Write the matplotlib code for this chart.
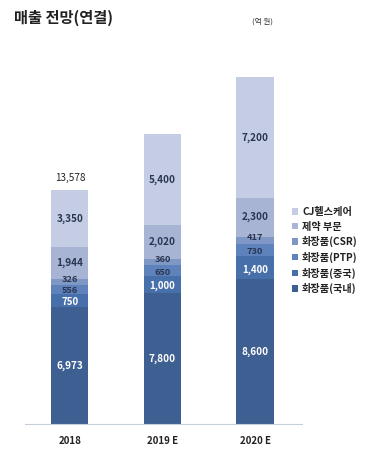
import matplotlib
matplotlib.use("Agg")
import matplotlib.pyplot as plt

plt.rcParams['font.family'] = ['Noto Sans CJK KR', 'DejaVu Sans']

years = ["2018", "2019 E", "2020 E"]
series_names = ["화장품(국내)", "화장품(중국)", "화장품(PTP)", "화장품(CSR)", "제약 부문", "CJ헬스케어"]
domestic = [6973, 7800, 8600]
china = [750, 1000, 1400]
ptp = [556, 650, 730]
csr = [326, 360, 417]
pharma = [1944, 2020, 2300]
cj_health = [3350, 5400, 7200]
total_labels = ["13,578", "", ""]

series = [domestic, china, ptp, csr, pharma, cj_health]
colors = ["#3e5f91", "#4770aa", "#5e82bb", "#7f97c4", "#a7b4d4", "#c4cde3"]
text_colors = ["white", "white", "#2a3550", "#2a3550", "#2a3550", "#2a3550"]
# small vertical nudges (points) for labels of thin segments
nudges = [0, -1.2, -1.0, 1.8, 0, 0]
label_sizes = [7.2, 7.0, 6.6, 6.6, 7.2, 7.2]

fig = plt.figure(figsize=(3.74, 4.5), dpi=100)
ax = fig.add_axes([25/374, 1 - 424/450, (302-25)/374, (424-77)/450])

x = list(range(len(years)))
bottoms = [0]*len(years)
handles = []
for vals, col, tc, name, nd, fs in zip(series, colors, text_colors, series_names, nudges, label_sizes):
    bars = ax.bar(x, vals, width=0.4, bottom=bottoms, color=col, edgecolor='none', label=name)
    handles.append(bars)
    for xi, v, b in zip(x, vals, bottoms):
        ax.annotate(f"{v:,}", (xi, b + v/2), xytext=(0, nd), textcoords='offset points',
                    ha='center', va='center', fontsize=fs, color=tc, fontweight='bold')
    bottoms = [b + v for b, v in zip(bottoms, vals)]

for xi, t, b in zip(x, total_labels, bottoms):
    if t:
        ax.annotate(t, (xi, b), xytext=(0, 5), textcoords='offset points',
                    ha='center', va='bottom', fontsize=7.2, color='#222222', annotation_clip=False)

ax.set_xlim(-0.486, 2.508)
ax.set_ylim(0, max(bottoms))
for s in ['top', 'right', 'left']:
    ax.spines[s].set_visible(False)
ax.spines['bottom'].set_color('#c8cfdc')
ax.spines['bottom'].set_linewidth(0.8)
ax.set_yticks([])
ax.set_xticks(x)
ax.set_xticklabels(years, fontsize=7, fontweight='bold', color='#222222')
ax.tick_params(axis='x', length=0, pad=9)

leg = fig.legend(handles=handles[::-1], labels=series_names[::-1], loc='upper left',
                 bbox_to_anchor=(292/374, 1 - 207/450), frameon=False, fontsize=7.3,
                 handlelength=0.6, handleheight=0.6, handletextpad=0.4, labelspacing=0.45,
                 borderaxespad=0, borderpad=0)
for t in leg.get_texts():
    t.set_fontweight('bold')
    t.set_color('#222222')

fig.text(14/374, 1 - 18/450, "매출 전망(연결)", fontsize=11, fontweight='bold', color='#222222', va='center')
fig.text(262/374, 1 - 22/450, "(억 원)", fontsize=5.5, color='#333333', va='center', ha='center')

fig.savefig("out.png", dpi=100)
